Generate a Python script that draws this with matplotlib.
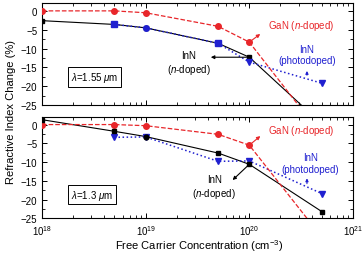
import numpy as np
import matplotlib.pyplot as plt
from matplotlib.ticker import LogLocator, MultipleLocator, NullFormatter

plt.rcParams['font.family'] = ['Liberation Sans', 'DejaVu Sans']
plt.rcParams['mathtext.fontset'] = 'custom'
plt.rcParams['mathtext.rm'] = 'Liberation Sans'
plt.rcParams['mathtext.it'] = 'Liberation Sans:italic'

# carrier concentrations (cm^-3)
conc = [1e18, 5e18, 1e19, 5e19, 1e20, 5e20]
conc_blue = [5e18, 1e19, 5e19, 1e20, 5e20]

# lambda = 1.55 um
gan_155 = [0, 0, -0.5, -4.1, -8.3, -33]
inn_155 = [-2.6, -3.6, -4.5, -8.6, -12.3, -30]
photo_155 = [-3.6, -4.5, -8.6, -13.6, -19.2]
photo_155_mk = ['s', 'o', 's', 'v', 'v']

# lambda = 1.3 um
gan_13 = [0, 0, -0.3, -2.6, -5.5, -30]
inn_13 = [1.3, -1.8, -3.2, -7.6, -10.6, -23.2]
inn_13_mk = ['s', 's', 'o', 's', 's', 's']
photo_13 = [-3.4, -3.3, -9.8, -9.7, -18.4]

red = '#e8262a'
blue = '#2020d0'

fig = plt.figure(figsize=(3.62, 2.55), dpi=100)
ax1 = fig.add_axes([0.116, 0.584, 0.859, 0.399])
ax2 = fig.add_axes([0.116, 0.140, 0.859, 0.397])

def style(ax):
    ax.set_xscale('log')
    ax.set_xlim(1e18, 1e21)
    ax.set_ylim(-25, 2)
    ax.yaxis.set_major_locator(MultipleLocator(5))
    ax.yaxis.set_minor_locator(MultipleLocator(2.5))
    ax.xaxis.set_minor_locator(LogLocator(base=10, subs=np.arange(2, 10)))
    ax.xaxis.set_minor_formatter(NullFormatter())
    ax.tick_params(which='both', direction='in', top=True, right=True, labelsize=7)
    ax.tick_params(which='major', length=3.5, width=0.7)
    ax.tick_params(which='minor', length=2, width=0.6)
    for s in ax.spines.values():
        s.set_linewidth(0.8)

# top panel
style(ax1)
ax1.tick_params(labelbottom=False)
ax1.plot(conc, gan_155, '--', color=red, lw=0.9, marker='o', ms=4, zorder=3)
ax1.plot(conc_blue, photo_155, ':', color=blue, lw=1.1, zorder=2)
ax1.plot(conc, inn_155, '-', color='black', lw=0.8, zorder=1)
for xi, yi in zip(conc, inn_155):
    ax1.plot(xi, yi, 's', color='black', ms=3.5, zorder=3)
for xi, yi, m in zip(conc_blue, photo_155, photo_155_mk):
    ax1.plot(xi, yi, m, color=blue, ms=4, zorder=4)
ax1.text(3.2e20, -3.7, 'GaN ($\\it{n}$-doped)', color=red, fontsize=7, ha='center', va='center')
ax1.annotate('', xy=(1.34e20, -5.7), xytext=(1e20, -8.3),
             arrowprops=dict(arrowstyle='-|>', color=red, lw=0.8, mutation_scale=5))
ax1.text(2.6e19, -13.8, 'InN\n($\\it{n}$-doped)', color='black', fontsize=7, ha='center', va='center')
ax1.annotate('', xy=(4.0e19, -12.3), xytext=(1e20, -12.3),
             arrowprops=dict(arrowstyle='-|>', color='black', lw=0.8, mutation_scale=5))
ax1.text(3.6e20, -11.6, 'InN\n(photodoped)', color=blue, fontsize=7, ha='center', va='center')
ax1.annotate('', xy=(3.6e20, -15.2), xytext=(3.6e20, -17.8),
             arrowprops=dict(arrowstyle='-|>', color=blue, lw=0.8, mutation_scale=4))
ax1.text(0.17, 0.275, '$\\lambda$=1.55 $\\mu$m', transform=ax1.transAxes, fontsize=7,
         ha='center', va='center',
         bbox=dict(boxstyle='square,pad=0.3', fc='white', ec='black', lw=0.7))

# bottom panel
style(ax2)
ax2.plot(conc, gan_13, '--', color=red, lw=0.9, marker='o', ms=4, zorder=3)
ax2.plot(conc_blue, photo_13, ':', color=blue, lw=1.1, marker='v', ms=4, zorder=2)
ax2.plot(conc, inn_13, '-', color='black', lw=0.8, zorder=1)
for xi, yi, m in zip(conc, inn_13, inn_13_mk):
    ax2.plot(xi, yi, m, color='black', ms=3.5, zorder=3)
ax2.text(3.2e20, -1.5, 'GaN ($\\it{n}$-doped)', color=red, fontsize=7, ha='center', va='center')
ax2.annotate('', xy=(1.34e20, -2.6), xytext=(1e20, -5.5),
             arrowprops=dict(arrowstyle='-|>', color=red, lw=0.8, mutation_scale=5))
ax2.text(3.9e20, -10.2, 'InN\n(photodoped)', color=blue, fontsize=7, ha='center', va='center')
ax2.annotate('', xy=(3.6e20, -13.6), xytext=(3.6e20, -16.5),
             arrowprops=dict(arrowstyle='-|>', color=blue, lw=0.8, mutation_scale=4))
ax2.text(4.6e19, -16.7, 'InN\n($\\it{n}$-doped)', color='black', fontsize=7, ha='center', va='center')
ax2.annotate('', xy=(6.6e19, -15.3), xytext=(1e20, -10.6),
             arrowprops=dict(arrowstyle='-|>', color='black', lw=0.8, mutation_scale=5))
ax2.text(0.16, 0.235, '$\\lambda$=1.3 $\\mu$m', transform=ax2.transAxes, fontsize=7,
         ha='center', va='center',
         bbox=dict(boxstyle='square,pad=0.3', fc='white', ec='black', lw=0.7))

fig.text(0.03, 0.56, 'Refractive Index Change (%)', rotation=90, fontsize=8,
         ha='center', va='center')
fig.text(0.55, 0.005, 'Free Carrier Concentration (cm$^{-3}$)', fontsize=8,
         ha='center', va='bottom')

fig.savefig('out.png', dpi=100)
